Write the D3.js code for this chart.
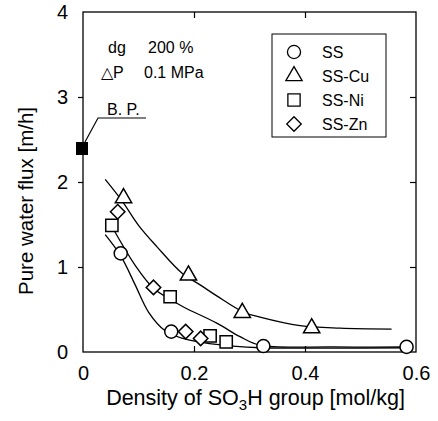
<!DOCTYPE html>
<html>
<head>
<meta charset="utf-8">
<script src="https://cdn.jsdelivr.net/npm/d3@7"></script>
<style>
  html, body { margin: 0; padding: 0; background: #fff; }
  svg { display: block; font-family: "Liberation Sans", Arial, sans-serif; }
</style>
</head>
<body>
<div id="chart"></div>
<script>
// ---- data ----
const seriesNames = ["SS", "SS-Cu", "SS-Ni", "SS-Zn"];
const seriesSymbols = ["circle", "triangle", "square", "diamond"];

const ssX = [0.068, 0.159, 0.325, 0.583];
const ssY = [1.16, 0.24, 0.07, 0.06];
const cuX = [0.073, 0.190, 0.287, 0.412];
const cuY = [1.80, 0.89, 0.45, 0.27];
const niX = [0.052, 0.157, 0.229, 0.258];
const niY = [1.49, 0.65, 0.19, 0.12];
const znX = [0.0625, 0.127, 0.185, 0.212];
const znY = [1.65, 0.76, 0.24, 0.16];

// B.P. (blank point)
const bpX = [0];
const bpY = [2.40];

// fitted curves
const fitCuX = [0.040, 0.070, 0.100, 0.133, 0.178, 0.211, 0.241, 0.289, 0.319, 0.391, 0.463, 0.556];
const fitCuY = [2.03, 1.78, 1.49, 1.24, 0.93, 0.79, 0.66, 0.47, 0.41, 0.31, 0.28, 0.27];
const fitMidX = [0.050, 0.094, 0.127, 0.157, 0.181, 0.241, 0.283, 0.319, 0.450, 0.583];
const fitMidY = [1.50, 1.02, 0.75, 0.62, 0.53, 0.34, 0.18, 0.08, 0.06, 0.06];
const fitSSX = [0.040, 0.068, 0.094, 0.118, 0.148, 0.180, 0.217, 0.270, 0.320, 0.450, 0.583];
const fitSSY = [1.38, 1.13, 0.79, 0.47, 0.25, 0.16, 0.11, 0.07, 0.05, 0.045, 0.05];

const xTicks = [0, 0.2, 0.4, 0.6];
const xTickLabels = ["0", "0.2", "0.4", "0.6"];
const yTicks = [0, 1, 2, 3, 4];
const yTickLabels = ["0", "1", "2", "3", "4"];

const annotLines = [["dg", "200 %"], ["\u25B3P", "0.1 MPa"]];

// ---- drawing ----
const W = 438, H = 421;
const svg = d3.select("#chart").append("svg").attr("width", W).attr("height", H);

const x = d3.scaleLinear().domain([0, 0.6]).range([83, 416]);
const y = d3.scaleLinear().domain([0, 4]).range([352, 12]);

const g = svg.append("g");

// frame
g.append("rect")
  .attr("x", x(0)).attr("y", y(4))
  .attr("width", x(0.6) - x(0)).attr("height", y(0) - y(4))
  .attr("fill", "none").attr("stroke", "#000").attr("stroke-width", 1.3);

// axes via d3
const xAxisB = d3.axisBottom(x).tickValues(xTicks).tickSize(-6).tickFormat((d, i) => xTickLabels[i]).tickPadding(14);
const xAxisT = d3.axisTop(x).tickValues(xTicks.slice(1, 3)).tickSize(-6).tickFormat("");
const yAxisL = d3.axisLeft(y).tickValues(yTicks).tickSize(5).tickFormat((d, i) => yTickLabels[i]).tickPadding(10);
const yAxisR = d3.axisRight(y).tickValues(yTicks.slice(1, 4)).tickSize(-6).tickFormat("");

function styleAxis(sel) {
  sel.select(".domain").remove();
  sel.selectAll(".tick line").attr("stroke", "#000").attr("stroke-width", 1.2);
  sel.selectAll(".tick text").attr("fill", "#000").style("font-size", "20px");
}
g.append("g").attr("transform", `translate(0,${y(0)})`).call(xAxisB).call(styleAxis)
  .selectAll(".tick line").filter(d => d === 0 || d === 0.6).remove();
g.append("g").attr("transform", `translate(0,${y(4)})`).call(xAxisT).call(styleAxis);
g.append("g").attr("transform", `translate(${x(0)},0)`).call(yAxisL).call(styleAxis)
  .selectAll(".tick line").filter(d => d === 0 || d === 4).remove();
g.append("g").attr("transform", `translate(${x(0.6)},0)`).call(yAxisR).call(styleAxis);

// axis titles
const xt = svg.append("text")
  .attr("x", (x(0) + x(0.6)) / 2 + 6).attr("y", 405)
  .attr("text-anchor", "middle").style("font-size", "21.5px").attr("fill", "#000");
xt.append("tspan").text("Density of SO");
xt.append("tspan").text("3").attr("dy", 5).style("font-size", "15px");
xt.append("tspan").text("H group [mol/kg]").attr("dy", -5);

svg.append("text")
  .attr("transform", `translate(33,${201}) rotate(-90)`)
  .attr("text-anchor", "middle").style("font-size", "20.5px").attr("fill", "#000")
  .text("Pure water flux [m/h]");

// fitted curves
const line = d3.line().x(d => x(d[0])).y(d => y(d[1])).curve(d3.curveCatmullRom.alpha(0.5));
[[fitCuX, fitCuY], [fitMidX, fitMidY], [fitSSX, fitSSY]].forEach(([xs, ys]) => {
  g.append("path")
    .datum(xs.map((v, i) => [v, ys[i]]))
    .attr("d", line)
    .attr("fill", "none").attr("stroke", "#000").attr("stroke-width", 1.3);
});

// symbols
const symMap = {
  circle: d3.symbolCircle, triangle: d3.symbolTriangle,
  square: d3.symbolSquare, diamond: d3.symbolSquare
};
const symSize = { circle: 135, triangle: 115, square: 150, diamond: 105 };
const symRot = { circle: 0, triangle: 0, square: 0, diamond: 45 };
const seriesData = [[ssX, ssY], [cuX, cuY], [niX, niY], [znX, znY]];

seriesData.forEach(([xs, ys], si) => {
  const s = seriesSymbols[si];
  g.selectAll(null)
    .data(xs.map((v, i) => [v, ys[i]]))
    .enter().append("path")
    .attr("d", d3.symbol().type(symMap[s]).size(symSize[s]))
    .attr("transform", d => `translate(${x(d[0])},${y(d[1]) + (s === "triangle" ? -1 : 0)}) rotate(${symRot[s]})`)
    .attr("fill", "#fff").attr("stroke", "#000").attr("stroke-width", 1.5);
});

// B.P. point
g.selectAll(null)
  .data(bpX.map((v, i) => [v, bpY[i]]))
  .enter().append("rect")
  .attr("x", d => x(d[0]) - 7).attr("y", d => y(d[1]) - 6)
  .attr("width", 12).attr("height", 13)
  .attr("fill", "#000");

// B.P. label and leader
const bp = [x(bpX[0]), y(bpY[0])];
svg.append("path")
  .attr("d", `M${bp[0] + 2},${bp[1] - 6} L${bp[0] + 15},${bp[1] - 30} L${bp[0] + 63},${bp[1] - 30}`)
  .attr("fill", "none").attr("stroke", "#000").attr("stroke-width", 1.2);
svg.append("text")
  .attr("x", bp[0] + 24).attr("y", bp[1] - 33)
  .style("font-size", "16px").attr("fill", "#000").text("B. P.");

// annotation (dg / ΔP)
annotLines.forEach((row, i) => {
  svg.append("text").attr("x", i === 0 ? 108 : 101).attr("y", 53 + i * 25)
    .style("font-size", "16px").attr("fill", "#000").text(row[0]);
  svg.append("text").attr("x", i === 0 ? 148 : 144).attr("y", 53 + i * 25)
    .style("font-size", "16px").attr("fill", "#000").text(row[1]);
});

// legend
const lg = svg.append("g");
lg.append("rect")
  .attr("x", 272).attr("y", 34).attr("width", 114).attr("height", 103)
  .attr("fill", "#fff").attr("stroke", "#000").attr("stroke-width", 1);
seriesNames.forEach((name, i) => {
  const cy = 52 + i * 24;
  const s = seriesSymbols[i];
  lg.append("path")
    .attr("d", d3.symbol().type(symMap[s]).size(symSize[s]))
    .attr("transform", `translate(294,${cy}) rotate(${symRot[s]})`)
    .attr("fill", "#fff").attr("stroke", "#000").attr("stroke-width", 1.3);
  lg.append("text").attr("x", 322).attr("y", cy + 6)
    .style("font-size", "16px").attr("fill", "#000").text(name);
});
</script>
</body>
</html>
